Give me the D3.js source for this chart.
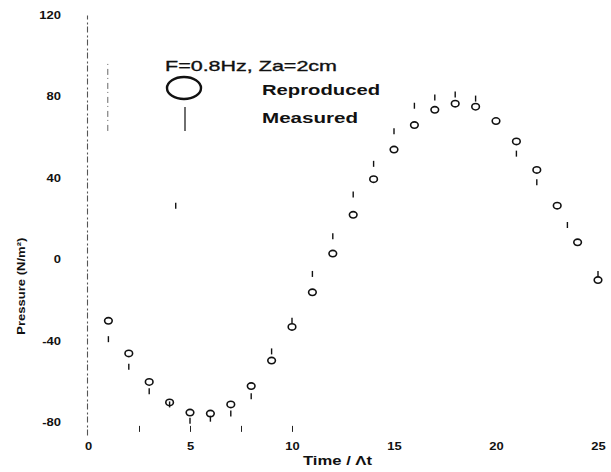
<!DOCTYPE html>
<html>
<head>
<meta charset="utf-8">
<script src="https://cdn.jsdelivr.net/npm/d3@7"></script>
<style>
  body { margin: 0; background: #fff; }
  svg text { font-family: "Liberation Sans", Arial, sans-serif; fill: #111; }
</style>
</head>
<body>
<div id="chart"></div>
<script>
// reproduced pressure (circles), one sample per time step
var repT = [1, 2, 3, 4, 5, 6, 7, 8, 9, 10, 11, 12, 13, 14, 15, 16, 17, 18, 19, 20, 21, 22, 23, 24, 25];
var repP = [-30, -46, -60, -70, -75, -75.5, -71, -62, -49.5, -33, -16, 3, 22, 39.5, 54, 66, 73.5, 76.5, 75, 68, 58, 44, 26.5, 8.5, -10];

// measured pressure (small vertical marks)
var measT = [1, 2, 3, 4, 5, 6, 7, 8, 9, 10, 11, 12, 13, 14, 15, 16, 17, 18, 19, 21, 22, 23.5, 25, 4.3];
var measP = [-39, -52.5, -64.5, -71, -79, -78, -75.5, -67, -45, -30, -7, 11.5, 32, 47, 63, 75.5, 79.5, 81, 79, 52, 38, 17, -7, 26.5];

// faint dashed trace left of the first sample
var traceT = [0.97, 0.97];
var traceP = [96, 62];

var xTicks = [0, 5, 10, 15, 20, 25];
var xMinorTicks = [2.5, 5, 7.5, 10];
var yTicks = [-80, -40, 0, 40, 80, 120];

var legendTitle = "F=0.8Hz, Za=2cm";
var legendNames = ["Reproduced", "Measured"];

var width = 611, height = 472;
var margin = {top: 15, right: 13, bottom: 37, left: 88};

var svg = d3.select("#chart").append("svg")
    .attr("width", width)
    .attr("height", height);

var x = d3.scaleLinear().domain([0, 25]).range([margin.left, width - margin.right]);
var y = d3.scaleLinear().domain([-86, 120]).range([height - margin.bottom, margin.top]);

var stretch = 1.3; // the scanned lettering is wide

// y axis: a faint dashed line, labels only
var yAxis = svg.append("g")
    .attr("transform", `translate(${x(0) - 1},0)`)
    .call(d3.axisLeft(y).tickValues(yTicks).tickFormat(d => String(d))
        .tickSize(0).tickSizeOuter(0).tickPadding(0));
yAxis.select(".domain")
    .attr("stroke", "#555")
    .attr("stroke-width", 1.1)
    .attr("stroke-dasharray", "6,2,2,3");
yAxis.selectAll("text")
    .attr("x", -26 / stretch)
    .attr("transform", `scale(${stretch},1)`)
    .style("font-size", "10px")
    .style("font-weight", "bold")
    .attr("font-family", null);

// x axis: labels only
var xAxis = svg.append("g")
    .attr("transform", `translate(0,${height - 29})`)
    .call(d3.axisBottom(x).tickValues(xTicks).tickSize(0).tickPadding(0));
xAxis.select(".domain").remove();
xAxis.selectAll("text")
    .attr("textLength", d => String(d).length * 7.2)
    .attr("lengthAdjust", "spacingAndGlyphs")
    .style("font-size", "10px")
    .style("font-weight", "bold")
    .attr("font-family", null);

// the few surviving minor ticks along the bottom
var minor = svg.append("g")
    .attr("transform", `translate(0,${y(-83)})`)
    .call(d3.axisBottom(x).tickValues(xMinorTicks).tickSize(6).tickFormat(""));
minor.select(".domain").remove();
minor.selectAll("line").attr("stroke", "#222").attr("stroke-width", 1).attr("transform", "translate(0,-3)");

// axis titles
svg.append("text")
    .attr("transform", `translate(25,${y(-13)}) rotate(-90)`)
    .attr("text-anchor", "middle")
    .attr("textLength", 97)
    .attr("lengthAdjust", "spacingAndGlyphs")
    .style("font-size", "11px")
    .style("font-weight", "bold")
    .text("Pressure (N/m²)");

svg.append("text")
    .attr("x", 303)
    .attr("y", 465)
    .attr("textLength", 69)
    .attr("lengthAdjust", "spacingAndGlyphs")
    .style("font-size", "12px")
    .style("font-weight", "bold")
    .text("Time / Λt");

// faint trace
svg.append("path")
    .datum(traceT.map((t, i) => ({t: t, p: traceP[i]})))
    .attr("d", d3.line().x(d => x(d.t)).y(d => y(d.p)))
    .attr("stroke", "#666")
    .attr("stroke-width", 1)
    .attr("stroke-dasharray", "1,4,6,3");

// measured marks
svg.append("g").selectAll("line")
    .data(measT.map((t, i) => ({t: t, p: measP[i]})))
    .enter().append("line")
    .attr("x1", d => x(d.t))
    .attr("x2", d => x(d.t))
    .attr("y1", d => y(d.p) - 3)
    .attr("y2", d => y(d.p) + 3)
    .attr("stroke", "#111")
    .attr("stroke-width", 1.4);

// reproduced circles
svg.append("g").selectAll("ellipse")
    .data(repT.map((t, i) => ({t: t, p: repP[i]})))
    .enter().append("ellipse")
    .attr("cx", d => x(d.t))
    .attr("cy", d => y(d.p))
    .attr("rx", 3.8)
    .attr("ry", 3.2)
    .attr("fill", "none")
    .attr("stroke", "#111")
    .attr("stroke-width", 1.6);

// legend
var legend = svg.append("g");
legend.append("text")
    .attr("x", 165)
    .attr("y", 71)
    .attr("textLength", 172)
    .attr("lengthAdjust", "spacingAndGlyphs")
    .style("font-size", "15px")
    .style("stroke", "#111")
    .style("stroke-width", 0.35)
    .text(legendTitle);
legend.append("ellipse")
    .attr("cx", 184).attr("cy", 88)
    .attr("rx", 17).attr("ry", 11)
    .attr("fill", "none")
    .attr("stroke", "#111")
    .attr("stroke-width", 2.4);
legend.append("line")
    .attr("x1", 185).attr("x2", 185)
    .attr("y1", 107).attr("y2", 131)
    .attr("stroke", "#222")
    .attr("stroke-width", 1.3);
legend.selectAll(".lname")
    .data(legendNames)
    .enter().append("text")
    .attr("class", "lname")
    .attr("x", 262)
    .attr("y", (d, i) => 95 + i * 28)
    .attr("textLength", (d, i) => i == 0 ? 118 : 96)
    .attr("lengthAdjust", "spacingAndGlyphs")
    .style("font-size", "14px")
    .style("font-weight", "bold")
    .text(d => d);
</script>
</body>
</html>
